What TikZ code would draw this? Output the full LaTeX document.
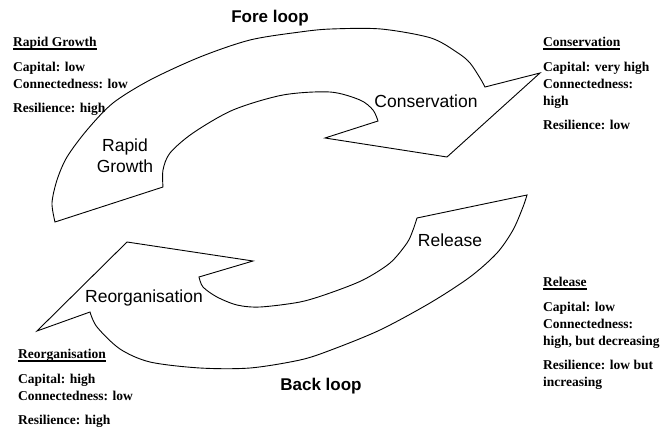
\documentclass[tikz,border=0pt]{standalone}
\usepackage{fontspec}
\setmainfont{Liberation Serif}
\newfontfamily\arialfont{Liberation Sans}
\usetikzlibrary{positioning}
\newcommand{\phasehead}[1]{\setbox0\hbox{#1}\rlap{\rule[-3pt]{\wd0}{1.6pt}}\box0}
\tikzstyle{phase} = [font=\arialfont\fontsize{17.5}{21}\selectfont, inner sep=0pt]
\tikzstyle{loopname} = [font=\arialfont\bfseries\fontsize{17}{20}\selectfont, inner sep=0pt, anchor=base]
\tikzstyle{info} = [font=\bfseries\fontsize{13.5}{17}\selectfont, align=left,
    anchor=north west, inner sep=0pt]
\tikzstyle{bigarrow} = [draw, line width=0.9pt, line join=miter]

\begin{document}
\begin{tikzpicture}[x=1pt, y=-1pt]
        \useasboundingbox (0,0) rectangle (662,428);
        % The two big curved arrows
        \draw [bigarrow] (55,222) -- plot[smooth] coordinates {(163,187) (163,170) (170,153)
            (193,133) (233,110) (283,95) (330,92) (360,100) (373,110) (378,121)}
            -- (325,138) -- (447,157) -- (540,73)
            -- plot[smooth] coordinates {(485,87) (480,78) (470,63) (458,53) (431,38)
            (381,29) (331,29) (300,32) (250,40) (200,57) (150,80) (113,103) (87,130)
            (67,157) (57,180) (52,203) (55,222)} -- cycle;
        \draw [bigarrow] (37,331) -- (127,242) -- (253,261)
            -- plot[smooth] coordinates {(199,277) (203,287) (217,297) (237,305) (260,307)
            (300,302) (330,293) (363,280) (390,263) (407,243) (413,230) (417,218)}
            -- (527,195)
            -- plot[smooth] coordinates {(527,195) (523,207) (513,230) (497,253) (470,277)
            (430,303) (380,330) (331,350) (300,360) (250,368) (200,368) (150,362)
            (120,349) (97,327) (90,312)} -- cycle;

        % Names of the phases and of the loops
        \node [phase, align=center, anchor=north] (growth) at (125,139) {Rapid\\Growth};
        \node [phase, anchor=base] (conservation) at (426,107) {Conservation};
        \node [phase, anchor=base] (release) at (450,246) {Release};
        \node [phase, anchor=base] (reorg) at (144,302) {Reorganisation};
        \node [loopname] (fore) at (270,23) {Fore loop};
        \node [loopname] (back) at (321,390) {Back loop};

        % Properties of each phase
        \node [info] (growthinfo) at (13,37) {\phasehead{Rapid Growth}\\[7.5pt]
            Capital: low\\Connectedness: low\\[7.5pt]Resilience: high};
        \node [info] (conservinfo) at (543,37) {\phasehead{Conservation}\\[7.5pt]
            Capital: very high\\Connectedness:\\high\\[7.5pt]Resilience: low};
        \node [info] (releaseinfo) at (543,277) {\phasehead{Release}\\[7.5pt]
            Capital: low\\Connectedness:\\high, but decreasing\\[7.5pt]
            Resilience: low but\\increasing};
        \node [info] (reorginfo) at (18,349) {\phasehead{Reorganisation}\\[7.5pt]
            Capital: high\\Connectedness: low\\[7.5pt]Resilience: high};
\end{tikzpicture}
\end{document}
